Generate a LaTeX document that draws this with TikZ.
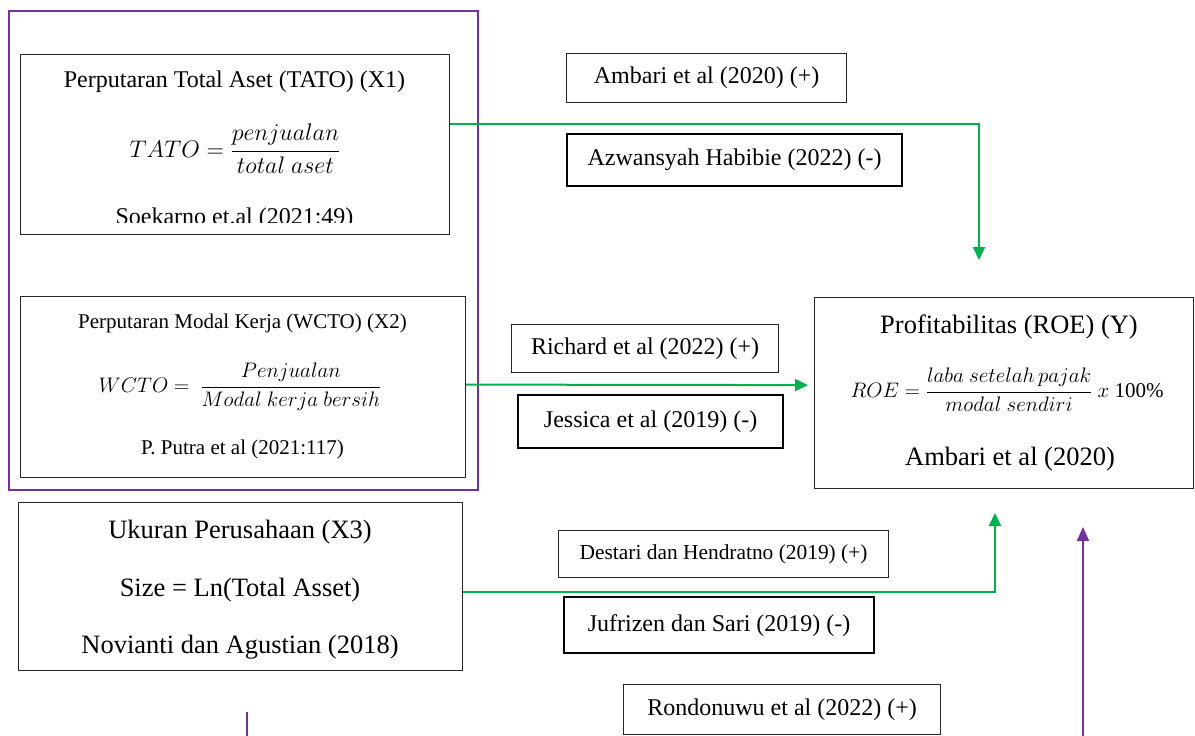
\documentclass[tikz,border=0pt]{standalone}
\usepackage{fix-cm}
\usepackage{fontspec}
\setmainfont{Liberation Serif}
\usetikzlibrary{arrows.meta,calc}
\definecolor{grn}{HTML}{00B050}
\definecolor{prp}{HTML}{7030A0}
\newcommand{\fsz}[1]{\fontsize{#1}{#1}\selectfont}
\tikzset{
  box/.style={draw=black!85, line width=1.2pt, inner sep=0pt, anchor=north west},
  thickbox/.style={box, draw=black, line width=2.2pt},
  txt/.style={inner sep=0pt, anchor=base},
  garrow/.style={draw=grn, line width=2pt, -{Triangle[width=12pt,length=13pt]}},
  parrow/.style={draw=prp, line width=2pt, -{Triangle[width=12pt,length=14pt]}},
  pline/.style={draw=prp, line width=2pt},
}
\begin{document}
\begin{tikzpicture}[x=1pt,y=-1pt]
\useasboundingbox (0,0) rectangle (1195,736);

% TATO box
\node[box, minimum width=429pt, minimum height=180pt] (tato) at (20,54) {};
\node[txt, font=\fsz{24}] (tatoT) at (234.5,87) {Perputaran Total Aset (TATO) (X1)};
\node[txt, font=\fsz{24}] (tatoF) at (235,157) {$\displaystyle TATO=\frac{penjualan}{total\ aset}$};
\begin{scope}
  \clip (21,190) rectangle (448,222.5);
  \node[txt, font=\fsz{24}] (tatoS) at (234.5,224) {Soekarno et.al (2021:49)};
\end{scope}

% WCTO box
\node[box, minimum width=445pt, minimum height=181pt] (wcto) at (20,296) {};
\node[txt, font=\fsz{21}] (wctoT) at (242.5,328) {Perputaran Modal Kerja (WCTO) (X2)};
\node[txt, font=\fsz{21}] (wctoF) at (240,392) {$\displaystyle WCTO=\ \frac{Penjualan}{Modal\ kerja\ bersih}$};
\node[txt, font=\fsz{21}] (wctoS) at (242.5,454) {P. Putra et al (2021:117)};

% group box
\node[draw=prp, line width=2pt, inner sep=0pt, anchor=north west, minimum width=469pt, minimum height=479pt] (grp) at (8,10) {};

% X3 box
\node[box, minimum width=444pt, minimum height=168pt] (x3) at (18,502) {};
\node[txt, font=\fsz{26.5}] (x3T) at (240,538) {Ukuran Perusahaan (X3)};
\node[txt, font=\fsz{26.5}] (x3F) at (240,596) {Size = Ln(Total Asset)};
\node[txt, font=\fsz{26.5}] (x3S) at (240,653) {Novianti dan Agustian (2018)};

% ROE box
\node[box, minimum width=379pt, minimum height=191pt] (roe) at (814,297) {};
\node[txt, font=\fsz{26.5}] (roeT) at (1009,333) {Profitabilitas (ROE) (Y)};
\node[txt, font=\fsz{21}] (roeF) at (1007,397) {$\displaystyle ROE=\frac{laba\ setelah\,pajak}{modal\ sendiri}\ x\ \mathrm{100\%}$};
\node[txt, font=\fsz{26.5}] (roeS) at (1010,465) {Ambari et al (2020)};

% label boxes
\node[box, minimum width=280pt, minimum height=49pt, font=\fsz{24}] (l1) at (566,53) {Ambari et al (2020) (+)};
\node[thickbox, minimum width=335pt, minimum height=52pt, font=\fsz{24}] (l2) at (566,133) {Azwansyah Habibie (2022) (-)};
\node[box, minimum width=267pt, minimum height=48pt, font=\fsz{24}] (l3) at (511,324) {Richard et al (2022) (+)};
\node[thickbox, minimum width=265pt, minimum height=53pt, font=\fsz{24}] (l4) at (517,394) {Jessica et al (2019) (-)};
\node[box, minimum width=330pt, minimum height=47pt, font=\fsz{21.4}] (l5) at (558,530) {Destari dan Hendratno (2019) (+)};
\node[thickbox, minimum width=310pt, minimum height=56pt, font=\fsz{24}] (l6) at (563,596) {Jufrizen dan Sari (2019) (-)};
\node[box, minimum width=317pt, minimum height=50pt, font=\fsz{24}] (l7) at (623,684) {Rondonuwu et al (2022) (+)};

% connectors
\coordinate (t1) at (979,260);
\draw[garrow] ($(tato.east)+(0,-21)$) -| (t1);
\draw[garrow] ($(wcto.east)+(0,-2.5)$) -- ($(roe.west)+(-6,-8)$);
\coordinate (t3) at (995,513);
\draw[garrow] ($(x3.east)+(0,5)$) -| (t3);
\coordinate (p0) at (1083,737);
\coordinate (p1) at (1083,527);
\draw[parrow] (p0) -- (p1);
\coordinate (q0) at (247,712);
\coordinate (q1) at (247,737);
\draw[pline] (q0) -- (q1);
\end{tikzpicture}
\end{document}
